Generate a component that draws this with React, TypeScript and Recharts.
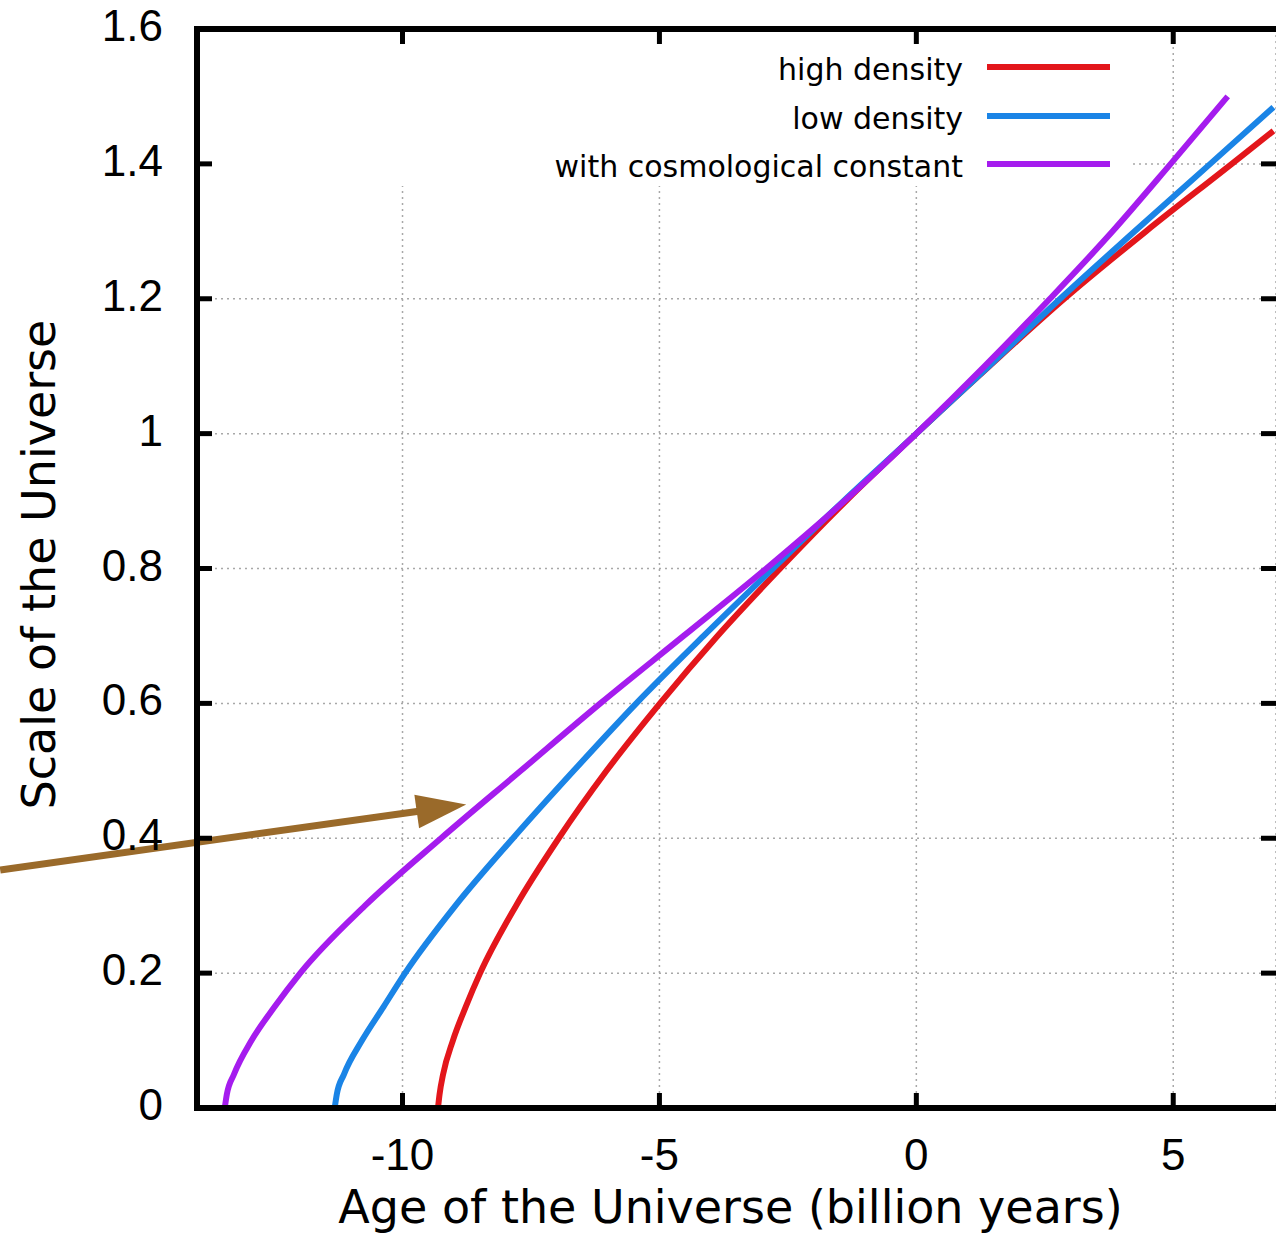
// Expansion of the universe: scale factor against age, three cosmologies.
// Values.

import React from 'react';
import { LineChart, Line, XAxis, YAxis, CartesianGrid, Legend, ReferenceLine } from 'recharts';

// age in billion years (0 = today) at each scale of the universe (1 = today)
const highDensityScale = [0, 0.02, 0.05, 0.1, 0.15, 0.2, 0.3, 0.4, 0.5, 0.6, 0.7, 0.8, 0.9, 1, 1.1, 1.2, 1.3, 1.4, 1.449];
const highDensityAge   = [-9.31, -9.28, -9.21, -9.02, -8.77, -8.49, -7.79, -6.96, -6.03, -4.99, -3.87, -2.65, -1.37, 0, 1.42, 2.88, 4.47, 6.14, 6.95];

const lowDensityScale = [0, 0.02, 0.05, 0.1, 0.15, 0.2, 0.3, 0.4, 0.5, 0.6, 0.7, 0.8, 0.9, 1, 1.1, 1.2, 1.3, 1.4, 1.484];
const lowDensityAge   = [-11.32, -11.28, -11.14, -10.79, -10.37, -9.95, -8.97, -7.85, -6.67, -5.45, -4.14, -2.79, -1.42, 0, 1.41, 2.80, 4.25, 5.72, 6.95];

const lambdaScale = [0, 0.02, 0.05, 0.1, 0.15, 0.2, 0.3, 0.4, 0.5, 0.6, 0.7, 0.8, 0.9, 1, 1.1, 1.2, 1.3, 1.4, 1.5];
const lambdaAge   = [-13.46, -13.42, -13.28, -12.94, -12.49, -11.99, -10.73, -9.25, -7.70, -6.15, -4.53, -2.92, -1.40, 0, 1.33, 2.60, 3.82, 4.95, 6.06];

const X_TICKS = [-10, -5, 0, 5];
const Y_TICKS = [0, 0.2, 0.4, 0.6, 0.8, 1, 1.2, 1.4, 1.6];
const X_DOMAIN: [number, number] = [-14, 7];
const Y_DOMAIN: [number, number] = [0, 1.6];

// annotation arrow, in data units (tail sits off the left of the plot)
const ARROW_TAIL = { t: -17.83, a: 0.353 };
const ARROW_TIP  = { t: -8.76, a: 0.45 };

const toPoints = (ages: number[], scales: number[]) =>
  ages.map((t, i) => ({ t, a: scales[i] }));

const SERIES = [
  { name: 'high density', color: '#e3161b', data: toPoints(highDensityAge, highDensityScale) },
  { name: 'low density', color: '#1a84e6', data: toPoints(lowDensityAge, lowDensityScale) },
  { name: 'with cosmological constant', color: '#a51cee', data: toPoints(lambdaAge, lambdaScale) },
];

const TICK_FONT = '"Liberation Sans", Arial, sans-serif';
const TITLE_FONT = '"DejaVu Sans", sans-serif';
const TICK_W = 5;
const TICK_LEN = 15;
const FRAME = { stroke: '#000', strokeWidth: 6, strokeLinecap: 'square' as const };

function BottomTick({ x, y, payload }: any) {
  return (
    <g>
      <line x1={x} y1={y} x2={x} y2={y - TICK_LEN} stroke="#000" strokeWidth={TICK_W} />
      <text x={x} y={y + 62} textAnchor="middle" fontSize={44} fontFamily={TICK_FONT} fill="#000">
        {payload.value}
      </text>
    </g>
  );
}

function LeftTick({ x, y, payload }: any) {
  return (
    <g>
      <line x1={x} y1={y} x2={x + TICK_LEN} y2={y} stroke="#000" strokeWidth={TICK_W} />
      <text x={x - 34} y={y + 12} textAnchor="end" fontSize={44} fontFamily={TICK_FONT} fill="#000">
        {payload.value}
      </text>
    </g>
  );
}

// mirrored ticks on the top and right edges, hung on full-height/width reference lines
function TopTickShape({ x1, y1, y2 }: any) {
  const top = Math.min(y1, y2);
  return <line x1={x1} y1={top} x2={x1} y2={top + TICK_LEN} stroke="#000" strokeWidth={TICK_W} />;
}

function RightTickShape({ x1, x2, y1 }: any) {
  const right = Math.max(x1, x2);
  return <line x1={right} y1={y1} x2={right - TICK_LEN} y2={y1} stroke="#000" strokeWidth={TICK_W} />;
}

// arrow drawn on the reference line's end points
function Arrow({ x1, y1, x2, y2 }: any) {
  const dx = x2 - x1;
  const dy = y2 - y1;
  const len = Math.hypot(dx, dy);
  const ux = dx / len;
  const uy = dy / len;
  const headLen = 50;
  const halfW = 17;
  const bx = x2 - ux * headLen;
  const by = y2 - uy * headLen;
  const pts = `${x2},${y2} ${bx - uy * halfW},${by + ux * halfW} ${bx + uy * halfW},${by - ux * halfW}`;
  return (
    <g>
      <line x1={x1} y1={y1} x2={bx + ux * 2} y2={by + uy * 2} stroke="#9a6a2a" strokeWidth={7} />
      <polygon points={pts} fill="#9a6a2a" />
    </g>
  );
}

function KeyBox({ payload }: any) {
  const rowTops = [-1, 48, 96];
  return (
    <div style={{ position: 'relative', width: 919, height: 140, background: '#fff' }}>
      {(payload || []).map((entry: any, i: number) => (
        <div
          key={entry.value}
          style={{
            position: 'absolute', right: 23, top: rowTops[i], height: 48,
            display: 'flex', alignItems: 'center', gap: 24,
          }}
        >
          <span style={{ fontFamily: TITLE_FONT, fontSize: 30, color: '#000', whiteSpace: 'nowrap' }}>
            {entry.value}
          </span>
          <span style={{ display: 'block', width: 123, height: 6, marginTop: -4, background: entry.color }} />
        </div>
      ))}
    </div>
  );
}

export default function App() {
  return (
    <div style={{ position: 'absolute', left: 0, top: 0, width: 1276, height: 1235, background: '#fff' }}>
      <LineChart
        width={1276}
        height={1235}
        margin={{ top: 29, right: 0, bottom: 67, left: 97 }}
        style={{ fontFamily: TICK_FONT }}
      >
        <CartesianGrid stroke="#a8a8a8" strokeWidth={1.5} strokeDasharray="2 4" />
        <XAxis
          dataKey="t"
          type="number"
          domain={X_DOMAIN}
          ticks={X_TICKS}
          allowDataOverflow
          height={60}
          tickSize={0}
          tickMargin={0}
          tickLine={false}
          axisLine={FRAME}
          tick={(p: any) => <BottomTick {...p} />}
          label={(p: any) => (
            <text
              x={p.viewBox.x + p.viewBox.width / 2 - 6}
              y={p.viewBox.y + 115}
              textAnchor="middle"
              fontSize={46}
              fontFamily={TITLE_FONT}
              fill="#000"
            >
              Age of the Universe (billion years)
            </text>
          )}
        />
        <YAxis
          type="number"
          domain={Y_DOMAIN}
          ticks={Y_TICKS}
          allowDataOverflow
          width={100}
          tickSize={0}
          tickMargin={0}
          tickLine={false}
          axisLine={FRAME}
          tick={(p: any) => <LeftTick {...p} />}
          label={(p: any) => {
            const cx = p.viewBox.x - 42;
            const cy = p.viewBox.y + p.viewBox.height / 2 - 4;
            return (
              <text
                x={cx}
                y={cy}
                transform={`rotate(-90, ${cx}, ${cy})`}
                textAnchor="middle"
                fontSize={46}
                fontFamily={TITLE_FONT}
                fill="#000"
              >
                Scale of the Universe
              </text>
            );
          }}
        />
        <Legend
          layout="horizontal"
          align="center"
          verticalAlign="middle"
          content={(p: any) => <KeyBox {...p} />}
          wrapperStyle={{ left: 214, top: 46, width: 919, height: 140 }}
        />
        {SERIES.map((s) => (
          <Line
            key={s.name}
            data={s.data}
            dataKey="a"
            name={s.name}
            type="monotone"
            stroke={s.color}
            strokeWidth={6}
            strokeLinejoin="round"
            dot={false}
            activeDot={false}
            isAnimationActive={false}
          />
        ))}
        {/* top edge of the frame */}
        <ReferenceLine y={Y_DOMAIN[1]} stroke="#000" strokeWidth={6} strokeLinecap="square" ifOverflow="visible" />
        {X_TICKS.map((v) => (
          <ReferenceLine key={`tt${v}`} x={v} ifOverflow="visible" shape={(p: any) => <TopTickShape {...p} />} />
        ))}
        {Y_TICKS.map((v) => (
          <ReferenceLine key={`rt${v}`} y={v} ifOverflow="visible" shape={(p: any) => <RightTickShape {...p} />} />
        ))}
        <ReferenceLine
          segment={[{ x: ARROW_TAIL.t, y: ARROW_TAIL.a }, { x: ARROW_TIP.t, y: ARROW_TIP.a }]}
          ifOverflow="visible"
          shape={(p: any) => <Arrow {...p} />}
        />
      </LineChart>
    </div>
  );
}
